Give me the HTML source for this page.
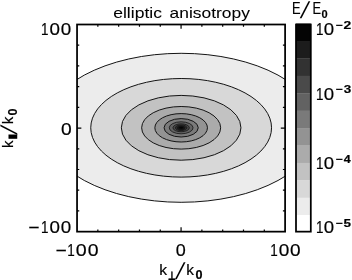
<!DOCTYPE html>
<html lang="en"><head><meta charset="utf-8"><title>elliptic anisotropy</title>
<style>html,body{margin:0;padding:0;background:#fff;overflow:hidden}svg{display:block}text{font-family:"Liberation Sans", "DejaVu Sans", sans-serif;fill:#000;stroke:#000;stroke-width:0.18px}</style>
</head><body>
<svg width="352" height="280" viewBox="0 0 352 280">
<rect x="0" y="0" width="352" height="280" fill="#fff"/>
<defs><clipPath id="pc"><rect x="77.05" y="24.50" width="208.05" height="207.15"/></clipPath></defs>
<g clip-path="url(#pc)">
<rect x="77.05" y="24.50" width="208.05" height="207.15" fill="rgb(255,255,255)"/>
<ellipse cx="181.15" cy="127.80" rx="137.00" ry="74.50" fill="rgb(236,236,236)" stroke="#141414" stroke-width="1.00"/>
<ellipse cx="181.15" cy="127.80" rx="90.40" ry="49.30" fill="rgb(216,216,216)" stroke="#141414" stroke-width="1.00"/>
<ellipse cx="181.15" cy="127.80" rx="59.80" ry="32.40" fill="rgb(194,194,194)" stroke="#141414" stroke-width="1.00"/>
<ellipse cx="181.15" cy="127.80" rx="39.50" ry="21.30" fill="rgb(171,171,171)" stroke="#141414" stroke-width="1.00"/>
<ellipse cx="181.15" cy="127.80" rx="26.30" ry="14.20" fill="rgb(147,147,147)" stroke="#141414" stroke-width="1.00"/>
<ellipse cx="181.15" cy="127.80" rx="17.10" ry="9.20" fill="rgb(122,122,122)" stroke="#141414" stroke-width="1.00"/>
<ellipse cx="181.15" cy="127.80" rx="11.90" ry="6.00" fill="rgb(98,98,98)" stroke="#141414" stroke-width="0.80"/>
<ellipse cx="181.15" cy="127.80" rx="8.20" ry="3.95" fill="rgb(74,74,74)" stroke="#141414" stroke-width="0.80"/>
<ellipse cx="181.15" cy="127.80" rx="5.80" ry="2.80" fill="rgb(50,50,50)" stroke="#141414" stroke-width="0.80"/>
<ellipse cx="181.15" cy="127.80" rx="4.00" ry="1.90" fill="rgb(28,28,28)" stroke="#141414" stroke-width="0.80"/>
<ellipse cx="181.15" cy="127.80" rx="2.60" ry="1.20" fill="rgb(4,4,4)" stroke="#141414" stroke-width="0.80"/>
</g>
<rect x="77.05" y="24.50" width="208.05" height="207.15" fill="none" stroke="#000" stroke-width="1.75"/>
<path d="M97.85 231.65v-2.20M97.85 24.50v2.20M77.05 45.22h2.20M285.10 45.22h-2.20M118.66 231.65v-2.20M118.66 24.50v2.20M77.05 65.93h2.20M285.10 65.93h-2.20M139.47 231.65v-2.20M139.47 24.50v2.20M77.05 86.64h2.20M285.10 86.64h-2.20M160.27 231.65v-2.20M160.27 24.50v2.20M77.05 107.36h2.20M285.10 107.36h-2.20M181.07 231.65v-4.30M181.07 24.50v4.30M77.05 128.07h4.30M285.10 128.07h-4.30M201.88 231.65v-2.20M201.88 24.50v2.20M77.05 148.79h2.20M285.10 148.79h-2.20M222.69 231.65v-2.20M222.69 24.50v2.20M77.05 169.50h2.20M285.10 169.50h-2.20M243.49 231.65v-2.20M243.49 24.50v2.20M77.05 190.22h2.20M285.10 190.22h-2.20M264.30 231.65v-2.20M264.30 24.50v2.20M77.05 210.94h2.20M285.10 210.94h-2.20" stroke="#000" stroke-width="1.2" fill="none"/>
<rect x="296.00" y="23.60" width="14.80" height="17.71" fill="rgb(4,4,4)"/>
<rect x="296.00" y="41.01" width="14.80" height="17.71" fill="rgb(28,28,28)"/>
<rect x="296.00" y="58.42" width="14.80" height="17.71" fill="rgb(50,50,50)"/>
<rect x="296.00" y="75.83" width="14.80" height="17.71" fill="rgb(74,74,74)"/>
<rect x="296.00" y="93.23" width="14.80" height="17.71" fill="rgb(98,98,98)"/>
<rect x="296.00" y="110.64" width="14.80" height="17.71" fill="rgb(122,122,122)"/>
<rect x="296.00" y="128.05" width="14.80" height="17.71" fill="rgb(147,147,147)"/>
<rect x="296.00" y="145.46" width="14.80" height="17.71" fill="rgb(171,171,171)"/>
<rect x="296.00" y="162.87" width="14.80" height="17.71" fill="rgb(194,194,194)"/>
<rect x="296.00" y="180.28" width="14.80" height="17.71" fill="rgb(216,216,216)"/>
<rect x="296.00" y="197.68" width="14.80" height="17.71" fill="rgb(236,236,236)"/>
<rect x="296.00" y="215.09" width="14.80" height="17.71" fill="rgb(255,255,255)"/>
<rect x="296.00" y="24.50" width="14.80" height="207.15" fill="none" stroke="#000" stroke-width="1.75"/>
<text transform="translate(113.20 17.60) scale(1.170 1)" font-size="15.00" text-anchor="start" font-weight="normal" style="stroke-width:0.05px">elliptic</text>
<text transform="translate(169.60 17.60) scale(1.160 1)" font-size="15.00" text-anchor="start" font-weight="normal" style="stroke-width:0.05px">anisotropy</text>
<text y="35.00" font-size="16.50"><tspan x="40.98" textLength="7.48" lengthAdjust="spacingAndGlyphs">1</tspan><tspan x="49.46" textLength="10.47" lengthAdjust="spacingAndGlyphs">0</tspan><tspan x="60.86" textLength="10.47" lengthAdjust="spacingAndGlyphs">0</tspan></text>
<text y="135.10" font-size="16.50"><tspan x="61.05" textLength="10.70" lengthAdjust="spacingAndGlyphs">0</tspan></text>
<text y="233.10" font-size="16.50"><tspan x="28.26" textLength="11.18" lengthAdjust="spacingAndGlyphs">−</tspan><tspan x="40.98" textLength="7.48" lengthAdjust="spacingAndGlyphs">1</tspan><tspan x="49.46" textLength="10.47" lengthAdjust="spacingAndGlyphs">0</tspan><tspan x="60.86" textLength="10.47" lengthAdjust="spacingAndGlyphs">0</tspan></text>
<text y="255.50" font-size="16.50"><tspan x="55.46" textLength="11.18" lengthAdjust="spacingAndGlyphs">−</tspan><tspan x="67.18" textLength="7.48" lengthAdjust="spacingAndGlyphs">1</tspan><tspan x="75.83" textLength="10.94" lengthAdjust="spacingAndGlyphs">0</tspan><tspan x="87.74" textLength="10.82" lengthAdjust="spacingAndGlyphs">0</tspan></text>
<text y="255.50" font-size="16.50"><tspan x="175.70" textLength="10.01" lengthAdjust="spacingAndGlyphs">0</tspan></text>
<text y="255.50" font-size="16.50"><tspan x="270.18" textLength="7.48" lengthAdjust="spacingAndGlyphs">1</tspan><tspan x="278.76" textLength="10.59" lengthAdjust="spacingAndGlyphs">0</tspan><tspan x="290.06" textLength="10.59" lengthAdjust="spacingAndGlyphs">0</tspan></text>
<text y="275.20" font-size="15.20"><tspan x="159.34" textLength="7.83" lengthAdjust="spacingAndGlyphs">k</tspan></text>
<text y="279.90" font-size="11.70" font-weight="bold" style="stroke-width:0.60px"><tspan x="167.98" textLength="7.75" lengthAdjust="spacingAndGlyphs">⊥</tspan></text>
<text transform="translate(175.00 279.10) skewX(-14.0)" font-size="23.00" style="stroke:none">/</text>
<text y="275.20" font-size="15.20"><tspan x="186.36" textLength="7.72" lengthAdjust="spacingAndGlyphs">k</tspan></text>
<text y="279.10" font-size="11.90" font-weight="bold"><tspan x="195.40" textLength="7.02" lengthAdjust="spacingAndGlyphs">0</tspan></text>
<g transform="translate(13 147.4) rotate(-90)">
<text y="0.00" font-size="15.20"><tspan x="-0.71" textLength="7.49" lengthAdjust="spacingAndGlyphs">k</tspan></text>
<text y="2.25" font-size="8.00" font-weight="bold" style="stroke-width:0.90px"><tspan x="7.82" textLength="5.24" lengthAdjust="spacingAndGlyphs">∥</tspan></text>
<text transform="translate(12.50 3.90) skewX(-14.0)" font-size="23.00" style="stroke:none">/</text>
<text y="0.00" font-size="15.20"><tspan x="23.28" textLength="7.60" lengthAdjust="spacingAndGlyphs">k</tspan></text>
<text y="4.20" font-size="11.90" font-weight="bold"><tspan x="31.80" textLength="7.02" lengthAdjust="spacingAndGlyphs">0</tspan></text>
</g>
<text transform="translate(292.00 14.20) scale(0.800 1)" font-size="16.10" text-anchor="start" font-weight="normal">E</text>
<text transform="translate(299.80 18.10) skewX(-14.0)" font-size="23.00" style="stroke:none">/</text>
<text transform="translate(312.40 14.20) scale(0.800 1)" font-size="16.10" text-anchor="start" font-weight="normal">E</text>
<text transform="translate(321.40 18.20) scale(1.000 1)" font-size="11.00" text-anchor="start" font-weight="bold">0</text>
<text y="34.90" font-size="16.50"><tspan x="315.98" textLength="7.48" lengthAdjust="spacingAndGlyphs">1</tspan><tspan x="323.87" textLength="10.35" lengthAdjust="spacingAndGlyphs">0</tspan></text>
<text y="28.80" font-size="11.00" font-weight="bold"><tspan x="335.70" textLength="7.10" lengthAdjust="spacingAndGlyphs">−</tspan><tspan x="343.52" textLength="7.74" lengthAdjust="spacingAndGlyphs">2</tspan></text>
<text y="99.50" font-size="16.50"><tspan x="315.98" textLength="7.48" lengthAdjust="spacingAndGlyphs">1</tspan><tspan x="323.87" textLength="10.35" lengthAdjust="spacingAndGlyphs">0</tspan></text>
<text y="93.40" font-size="11.00" font-weight="bold"><tspan x="335.70" textLength="7.10" lengthAdjust="spacingAndGlyphs">−</tspan><tspan x="343.69" textLength="7.50" lengthAdjust="spacingAndGlyphs">3</tspan></text>
<text y="169.00" font-size="16.50"><tspan x="315.98" textLength="7.48" lengthAdjust="spacingAndGlyphs">1</tspan><tspan x="323.87" textLength="10.35" lengthAdjust="spacingAndGlyphs">0</tspan></text>
<text y="162.90" font-size="11.00" font-weight="bold"><tspan x="335.70" textLength="7.10" lengthAdjust="spacingAndGlyphs">−</tspan><tspan x="343.81" textLength="6.96" lengthAdjust="spacingAndGlyphs">4</tspan></text>
<text y="232.70" font-size="16.50"><tspan x="315.98" textLength="7.48" lengthAdjust="spacingAndGlyphs">1</tspan><tspan x="323.87" textLength="10.35" lengthAdjust="spacingAndGlyphs">0</tspan></text>
<text y="226.60" font-size="11.00" font-weight="bold"><tspan x="335.70" textLength="7.10" lengthAdjust="spacingAndGlyphs">−</tspan><tspan x="343.59" textLength="7.49" lengthAdjust="spacingAndGlyphs">5</tspan></text>
</svg></body></html>
